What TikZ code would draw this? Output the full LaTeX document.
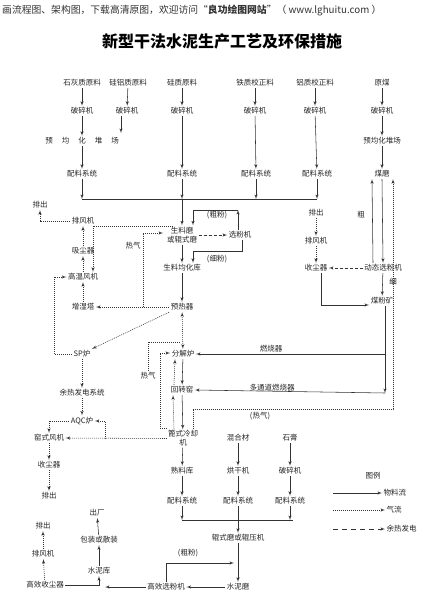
\documentclass[tikz,border=0pt]{standalone}
\usepackage{fontspec}
\setmainfont{Noto Sans CJK SC}
\usetikzlibrary{arrows}

\begin{document}
\begin{tikzpicture}[x=1pt, y=-1pt]
	\tikzset{proc/.style = {inner sep=1.5pt, text=black!85, font=\fontsize{7.5}{9}\selectfont}}
	\tikzset{edge/.style = {->, > = latex', line width=0.55pt, black!80}}
	\tikzset{gas/.style = {edge, dash pattern=on 1pt off 1pt}}
	\tikzset{heat/.style = {edge, dash pattern=on 3pt off 2pt}}
	\tikzset{line/.style = {line width=0.55pt, black!80}}
	\useasboundingbox[fill=white] (0,0) rectangle (425,597);
	% header and title
	\node[anchor=west, inner sep=0pt, text=black!80, font=\fontsize{9.8}{11}\selectfont] (hdr) at (2,10) {画流程图、架构图，下载高清原图，欢迎访问“\textbf{良功绘图网站}”（ www.lghuitu.com ）};
	\node[inner sep=0pt, font=\fontsize{16}{18}\bfseries] (title) at (222,41) {新型干法水泥生产工艺及环保措施};
	% raw materials
	\node[proc] (limeraw) at (82,83) {石灰质原料};
	\node[proc] (sialraw) at (128,83) {硅铝质原料};
	\node[proc] (siraw) at (182,83) {硅质原料};
	\node[proc] (feraw) at (255,83) {铁质校正料};
	\node[proc] (alraw) at (315,83) {铝质校正料};
	\node[proc] (coal) at (382,83) {原煤};
	\node[proc] (crushA) at (82,111) {破碎机};
	\node[proc] (crushB) at (127,111) {破碎机};
	\node[proc] (crushC) at (182,111) {破碎机};
	\node[proc] (crushD) at (255,111) {破碎机};
	\node[proc] (crushE) at (315,111) {破碎机};
	\node[proc] (crushF) at (382,111) {破碎机};
	\node[proc] (yardA) at (82,141) {预\hspace{9pt}均\hspace{9pt}化\hspace{9pt}堆\hspace{9pt}场};
	\node[proc] (yardF) at (382,141) {预均化堆场};
	\node[proc] (batchA) at (82,174) {配料系统};
	\node[proc] (batchC) at (182,174) {配料系统};
	\node[proc] (batchD) at (256,174) {配料系统};
	\node[proc] (batchE) at (317,174) {配料系统};
	\node[proc] (coalmill) at (382,174) {煤磨};
	\coordinate (yardBend) at (121,133);
	\coordinate (busL) at (82,199);
	\coordinate (busR) at (317,199);
	% raw meal
	\node[proc, align=center] (rawmill) at (182,235) {生料磨\\或辊式磨};
	\node[proc] (sep) at (240,235) {选粉机};
	\node[proc] (rawsilo) at (182,268) {生料均化库};
	\node[proc] (preheat) at (182,307) {预热器};
	\node[proc] (coarseA) at (217,215) {(粗粉)};
	\node[proc] (fineA) at (217,259) {(细粉)};
	\coordinate (coarseTop) at (238,210);
	\coordinate (coarseL) at (193,210);
	\coordinate (fineR) at (242,251);
	\coordinate (fineL) at (193,251);
	% raw mill gas
	\node[proc] (outA) at (40,205) {排出};
	\node[proc] (ventA) at (83,221) {排风机};
	\node[proc] (dustA) at (83,251) {吸尘器};
	\node[proc] (fanHT) at (83,277) {高温风机};
	\node[proc] (humid) at (83,307) {增湿塔};
	\node[proc] (hotA) at (133,246) {热气};
	\coordinate (hotB) at (143,307);
	\coordinate (hotC) at (163,233);
	\coordinate (millGas) at (173,226);
	\coordinate (fanGas) at (93,226);
	% coal
	\node[proc] (outB) at (316,213) {排出};
	\node[proc] (ventB) at (316,241) {排风机};
	\node[proc] (dustB) at (316,268) {收尘器};
	\node[proc] (dynsep) at (383,268) {动态选粉机};
	\node[proc] (coalbin) at (382,301) {煤粉矿};
	\node[proc] (coarseC) at (361,215) {粗};
	\node[proc] (fineC) at (393,282) {细};
	\coordinate (binBend) at (321,305);
	\coordinate (burnJoin) at (385,393);
	% kiln
	\node[proc] (calciner) at (183,354) {分解炉};
	\node[proc] (kiln) at (182,390) {回转窑};
	\node[proc, align=center, inner sep=1pt] (cooler) at (183,438.5) {篦式冷却\\机};
	\node[proc] (burnA) at (271,349) {燃烧器};
	\node[proc] (burnB) at (272,388) {多通道燃烧器};
	\node[proc] (hotD) at (148,376) {热气};
	\node[proc] (hotE) at (260,416) {(热气)};
	\coordinate (hotJoin) at (181,342);
	\coordinate (tertB) at (160,428);
	\coordinate (tertT) at (160,353);
	\coordinate (hotF) at (193,409);
	\coordinate (hotG) at (393,409);
	% waste heat
	\node[proc] (sp) at (82,354) {SP炉};
	\node[proc] (whr) at (82,393) {余热发电系统};
	\node[proc] (aqc) at (82,421) {AQC炉};
	\node[proc] (kilnfan) at (49,438) {窑式风机};
	\node[proc] (dustC) at (49,465) {收尘器};
	\node[proc] (outD) at (49,496) {排出};
	\coordinate (spBend) at (54,354);
	\coordinate (aqcBr) at (105,438.5);
	% cement
	\node[proc] (clinker) at (182,471) {熟料库};
	\node[proc] (batchG) at (182,501) {配料系统};
	\node[proc] (mixmat) at (238,438) {混合材};
	\node[proc] (gypsum) at (290,438) {石膏};
	\node[proc] (dryer) at (238,471) {烘干机};
	\node[proc] (crushG) at (290,471) {破碎机};
	\node[proc] (batchH) at (238,501) {配料系统};
	\node[proc] (batchI) at (290,501) {配料系统};
	\node[proc] (rollmill) at (238,538) {辊式磨或辊压机};
	\node[proc] (cementmill) at (238,587) {水泥磨};
	\node[proc] (hesep) at (166,587) {高效选粉机};
	\node[proc] (coarseD) at (188,553) {(粗粉)};
	\node[proc] (cemsilo) at (99,571) {水泥库};
	\node[proc] (pack) at (99,540) {包装或散装};
	\node[proc] (leave) at (97,513) {出厂};
	\node[proc] (hedust) at (45,585) {高效收尘器};
	\node[proc] (ventC) at (43,554) {排风机};
	\node[proc] (outC) at (43,526) {排出};
	\coordinate (bus2L) at (182,520);
	\coordinate (bus2R) at (293,520);
	\coordinate (cfR) at (234,563);
	\coordinate (siloIn) at (105,587);
	% legend
	\node[proc] (legend) at (373,476) {图例};
	\node[proc, anchor=west] (legMat) at (382,493) {物料流};
	\node[proc, anchor=west] (legGas) at (385,510) {气流};
	\node[proc, anchor=west] (legHeat) at (385,529) {余热发电};
	\coordinate (legA) at (333,493);
	\coordinate (legB) at (333,510);
	\coordinate (legC) at (333,529);
	% edges: raw materials
	\draw[edge] (limeraw) -- (crushA);
	\draw[edge] (sialraw) -- (crushB);
	\draw[edge] (siraw) -- (crushC);
	\draw[edge] (feraw) -- (crushD);
	\draw[edge] (alraw) -- (crushE);
	\draw[edge] (coal) -- (crushF);
	\draw[edge] (crushA) -- (yardA);
	\draw[edge] (crushB.south -| yardBend) -- (yardBend);
	\draw[edge] (crushF) -- (yardF);
	\draw[edge] (yardA) -- (batchA);
	\draw[edge] (yardF) -- (coalmill);
	\draw[edge] (crushC) -- (batchC);
	\draw[edge] (crushD) -- (batchD);
	\draw[edge] (crushE) -- (batchE);
	\draw[line] (busL) -- (busR);
	\draw[edge] (batchA) -- (busL);
	\draw[edge] (batchD) -- (batchD |- busL);
	\draw[edge] (batchE) -- (busR);
	\draw[edge] (batchC) -- (batchC |- busL);
	\draw[edge] (batchC |- busL) -- (rawmill);
	% edges: raw meal
	\draw[heat] (rawmill.east) -- (sep.west);
	\draw[edge] (sep.north -| coarseTop) -- (coarseTop);
	\draw[edge] (coarseTop) -- (coarseL) -- (rawmill.north -| coarseL);
	\draw[edge] (sep.south -| fineR) -- (fineR) -- (fineL) -- (rawsilo.north -| fineL);
	\draw[edge] (rawmill) -- (rawsilo);
	\draw[edge] (rawsilo) -- (preheat);
	\draw[gas] (preheat.west) -- (humid.east);
	\draw[gas] (hotB) -- (hotB |- hotC) -- (hotC);
	\draw[gas] (humid) -- (fanHT);
	\draw[gas] (fanHT) -- (dustA);
	\draw[gas] (dustA) -- (ventA);
	\draw[gas] (ventA.west) -- (ventA.west -| outA) -- (outA.south);
	\draw[gas] (millGas) -- (fanGas) -- (fanGas |- fanHT.north);
	% edges: coal
	\draw[gas] (outB) -- (ventB);
	\draw[gas] (ventB) -- (dustB);
	\draw[heat] (dynsep.west) -- (dustB.east);
	\draw[edge] (dustB.south -| binBend) -- (binBend) -- (binBend -| coalbin.west);
	\draw[edge] (coalmill.south) -- (dynsep.north);
	\draw[edge] ([xshift=-10pt]dynsep.north) -- ([xshift=-10pt]coalmill.south);
	\draw[edge] (dynsep) -- (coalbin);
	\draw[edge] (coalbin.south -| burnJoin) -- (burnJoin);
	\draw[edge] (burnJoin |- calciner) -- (calciner.east);
	\draw[edge] (burnJoin) -- (kiln.east);
	% edges: kiln
	\draw[gas, <->] (preheat) -- (calciner);
	\draw[line, dash pattern=on 1pt off 1pt] (hotD.north) -- (hotD.north |- hotJoin) -- (hotJoin);
	\draw[gas] (tertB -| cooler.west) -- (tertB) -- (tertT) -- (calciner.west |- tertT);
	\draw[edge] (calciner) -- (kiln);
	\draw[edge] (kiln) -- (cooler);
	\draw[gas] ([xshift=-8pt]kiln.north) -- ([xshift=-8pt]calciner.south);
	\draw[gas] ([xshift=-9pt]cooler.north) -- ([xshift=-9pt]kiln.south);
	\draw[gas] (cooler.north -| hotF) -- (hotF) -- (hotG) -- (hotG |- coalmill.south);
	% edges: waste heat
	\draw[gas] (preheat.south west) -- (sp.north east);
	\draw[gas] (sp.west) -- (spBend) -- (spBend |- fanHT) -- (fanHT.west);
	\draw[gas] (sp) -- (whr);
	\draw[gas] (whr) -- (aqc);
	\draw[gas] (cooler.west) -- (kilnfan.east);
	\draw[gas] (aqcBr) -- (aqcBr |- aqc) -- (aqc.east);
	\draw[gas] (aqc.west) -- (aqc.west -| kilnfan) -- (kilnfan.north);
	\draw[gas] (kilnfan) -- (dustC);
	\draw[gas] (dustC) -- (outD);
	% edges: cement
	\draw[edge] (cooler) -- (clinker);
	\draw[edge] (clinker) -- (batchG);
	\draw[edge] (mixmat) -- (dryer);
	\draw[edge] (gypsum) -- (crushG);
	\draw[edge] (dryer) -- (batchH);
	\draw[edge] (crushG) -- (batchI);
	\draw[line] (bus2L) -- (bus2R);
	\draw[edge] (batchG) -- (bus2L);
	\draw[edge] (batchI) -- (batchI |- bus2R);
	\draw[edge] (batchH) -- (rollmill);
	\draw[edge] (rollmill) -- (cementmill);
	\draw[edge] (cementmill) -- (hesep);
	\draw[edge] (hesep.north) -- (hesep.north |- cfR) -- (cfR);
	\draw[edge] (hesep.west) -- (siloIn);
	\draw[edge] (hedust.east) -- (hedust.east -| cemsilo) -- (cemsilo.south);
	\draw[edge] (cemsilo) -- (pack);
	\draw[edge] (pack) -- (leave);
	\draw[gas] (hedust) -- (ventC);
	\draw[gas] (ventC) -- (outC);
	% edges: legend
	\draw[edge] (legA) -- (legMat.west);
	\draw[gas] (legB) -- (legGas.west);
	\draw[edge, dash pattern=on 5pt off 4pt] (legC) -- (legHeat.west);
\end{tikzpicture}
\end{document}
